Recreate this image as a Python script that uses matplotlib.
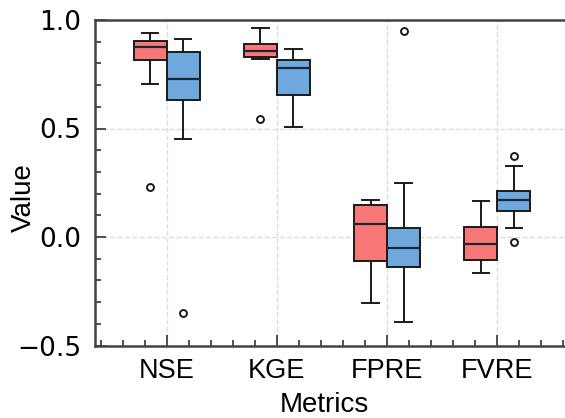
import matplotlib
matplotlib.use("Agg")
import matplotlib.pyplot as plt
from matplotlib.ticker import MultipleLocator

plt.rcParams["font.family"] = "DejaVu Sans"

# values (whislo, q1, med, q3, whishi, fliers)
metrics = ["NSE", "KGE", "FPRE", "FVRE"]

red_whislo = [0.705, 0.822, -0.306, -0.167]
red_q1 = [0.816, 0.828, -0.111, -0.106]
red_med = [0.877, 0.857, 0.060, -0.034]
red_q3 = [0.905, 0.889, 0.147, 0.045]
red_whishi = [0.939, 0.965, 0.171, 0.167]
red_fliers = [[0.229], [0.544], [], []]

blue_whislo = [0.450, 0.508, -0.390, 0.043]
blue_q1 = [0.631, 0.654, -0.137, 0.120]
blue_med = [0.727, 0.777, -0.052, 0.172]
blue_q3 = [0.854, 0.816, 0.040, 0.211]
blue_whishi = [0.912, 0.868, 0.247, 0.329]
blue_fliers = [[-0.349], [], [0.951], [0.375, -0.022]]

red_color = "#F87878"
blue_color = "#6FA8DC"


def make_stats(lo, q1, med, q3, hi, fl):
    stats = []
    for i in range(len(lo)):
        stats.append(dict(whislo=lo[i], q1=q1[i], med=med[i], q3=q3[i],
                          whishi=hi[i], fliers=fl[i]))
    return stats


fig = plt.figure(figsize=(5.65, 4.18), dpi=100)
ax = fig.add_axes([95 / 565, 72.5 / 418, 474 / 565, 325.5 / 418])

pos = list(range(1, len(metrics) + 1))
box_kw = dict(widths=0.3, patch_artist=True,
              boxprops=dict(linewidth=1.4, edgecolor="#1a1a1a"),
              whiskerprops=dict(linewidth=1.4, color="#1a1a1a"),
              capprops=dict(linewidth=1.4, color="#1a1a1a"),
              medianprops=dict(linewidth=1.6, color="#1c2533"),
              flierprops=dict(marker="o", markersize=5, markerfacecolor="none",
                              markeredgecolor="#1a1a1a", markeredgewidth=1.4))

b1 = ax.bxp(make_stats(red_whislo, red_q1, red_med, red_q3, red_whishi, red_fliers),
            positions=[p - 0.15 for p in pos], **box_kw)
b2 = ax.bxp(make_stats(blue_whislo, blue_q1, blue_med, blue_q3, blue_whishi, blue_fliers),
            positions=[p + 0.15 for p in pos], **box_kw)
for b in b1["boxes"]:
    b.set_facecolor(red_color)
for b in b2["boxes"]:
    b.set_facecolor(blue_color)

ax.set_xlim(0.35, 4.65)
ax.set_ylim(-0.5, 1.0)
ax.set_xticks(pos)
ax.set_xticklabels(metrics)
ax.xaxis.set_minor_locator(MultipleLocator(0.2))
ax.yaxis.set_major_locator(MultipleLocator(0.5))
ax.yaxis.set_minor_locator(MultipleLocator(0.1))

ax.tick_params(which="both", direction="in", color="#333333", width=1.2)
ax.tick_params(which="major", length=8)
ax.tick_params(axis="x", which="major", pad=9, labelsize=19.5,
               labelfontfamily="Liberation Sans")
ax.tick_params(axis="y", which="major", pad=10, labelsize=19,
               labelfontfamily="DejaVu Sans")
ax.tick_params(which="minor", length=4)
for s in ax.spines.values():
    s.set_linewidth(1.8)
    s.set_color("#444444")

ax.grid(True, which="major", linestyle="--", color="#dddddd", linewidth=1.0)
ax.set_axisbelow(True)

ax.set_xlabel("Metrics", fontsize=20, family="Liberation Sans")
ax.set_ylabel("Value", fontsize=20, family="Liberation Sans")
ax.xaxis.set_label_coords(0.483, -0.143)
ax.yaxis.set_label_coords(-0.122, 0.456)

fig.savefig("out.png", dpi=100)
